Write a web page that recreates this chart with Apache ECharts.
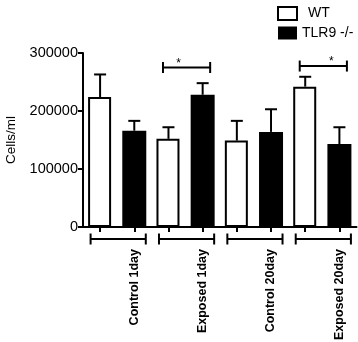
<!DOCTYPE html>
<html>
<head>
<meta charset="utf-8">
<script src="https://cdn.jsdelivr.net/npm/echarts@6/dist/echarts.min.js"></script>
<style>
html,body{margin:0;padding:0;background:#fff;}
#chart{width:358px;height:342px;}
</style>
</head>
<body>
<div id="chart"></div>
<script>
// ---- data ----
const categories = ['Control 1day', 'Exposed 1day', 'Control 20day', 'Exposed 20day'];
const seriesNames = ['WT', 'TLR9 -/-'];
const wtMean = [224000, 152000, 149000, 242000];
const wtErr = [39000, 20000, 34000, 17000];
const tlrMean = [166000, 228000, 164000, 143000];
const tlrErr = [17000, 20000, 39000, 29000];
const yMin = 0, yMax = 300000, yStep = 100000;
const sigGroups = [1, 3];            // groups with a significance bracket
const sigLevel = [275000, 277500];   // bracket height (data units)
const sigText = ['*', '*'];

// ---- build slot layout: each group -> [WT slot, TLR slot] ----
const slotNames = [];
const wtSlots = [], tlrSlots = [], errData = [], groupData = [];
categories.forEach((c, g) => {
  slotNames.push(c + ' ' + seriesNames[0], c + ' ' + seriesNames[1]);
  wtSlots.push(wtMean[g], '-');
  tlrSlots.push('-', tlrMean[g]);
  errData.push([2 * g, wtMean[g], wtErr[g]]);
  errData.push([2 * g + 1, tlrMean[g], tlrErr[g]]);
  groupData.push([2 * g, 2 * g + 1]);
});
const sigData = sigGroups.map((g, i) => [2 * g, 2 * g + 1, sigLevel[i], i]);

const FONT = 'Liberation Sans, Arial, Helvetica, sans-serif';
const chart = echarts.init(document.getElementById('chart'), null, {renderer: 'canvas'});

function line(x1, y1, x2, y2) {
  return {type: 'line', shape: {x1, y1, x2, y2}, style: {stroke: '#000', lineWidth: 2}};
}

chart.setOption({
  animation: false,
  backgroundColor: '#fff',
  grid: {left: 83, right: 1.5, top: 53, bottom: 115, outerBoundsMode: 'none'},
  legend: {
    orient: 'vertical', left: 272, top: 1,
    itemWidth: 19, itemHeight: 13, itemGap: 5,
    textStyle: {fontFamily: FONT, fontSize: 14, color: '#000', lineHeight: 14},
    data: [
      {name: seriesNames[0], icon: 'rect', itemStyle: {color: '#fff', borderColor: '#000', borderWidth: 2},
       textStyle: {padding: [0, 0, 0, 6]}},
      {name: seriesNames[1], icon: 'rect', itemStyle: {color: '#000', borderColor: '#000', borderWidth: 0}}
    ]
  },
  xAxis: {
    type: 'category',
    data: slotNames,
    boundaryGap: true,
    axisLine: {show: true, lineStyle: {color: '#000', width: 2}},
    axisTick: {show: true, alignWithLabel: true, interval: 0, length: 5, lineStyle: {color: '#000', width: 2}},
    axisLabel: {
      interval: 0, rotate: 90, margin: 22,
      fontFamily: FONT, fontSize: 12.5, fontWeight: 'bold', color: '#000',
      formatter: (v, i) => (i % 2 === 1 ? categories[(i - 1) / 2] : '')
    },
    splitLine: {show: false}
  },
  yAxis: {
    type: 'value', min: yMin, max: yMax, interval: yStep,
    name: 'Cells/ml', nameLocation: 'middle', nameGap: 53,
    nameTextStyle: {fontFamily: FONT, fontSize: 13.5, color: '#000'},
    axisLine: {show: true, lineStyle: {color: '#000', width: 2}},
    axisTick: {show: true, length: 5, lineStyle: {color: '#000', width: 2}},
    axisLabel: {fontFamily: FONT, fontSize: 14.5, color: '#000', margin: 5, formatter: v => String(v)},
    splitLine: {show: false}
  },
  series: [
    {
      name: seriesNames[0], type: 'bar', data: wtSlots, barWidth: 23, barGap: '-100%',
      itemStyle: {color: '#fff', borderColor: '#000', borderWidth: 2}
    },
    {
      name: seriesNames[1], type: 'bar', data: tlrSlots, barWidth: 24, barGap: '-100%',
      itemStyle: {color: '#000'}
    },
    {
      type: 'custom', name: 'err', data: errData, z: 5,
      encode: {x: 0, y: 1},
      renderItem: (params, api) => {
        const x = api.value(0), m = api.value(1), e = api.value(2);
        const p0 = api.coord([x, m]);
        const p1 = api.coord([x, m + e]);
        return {type: 'group', children: [
          line(p0[0], p0[1], p1[0], p1[1]),
          line(p1[0] - 6, p1[1], p1[0] + 6, p1[1])
        ]};
      }
    },
    {
      type: 'custom', name: 'sig', data: sigData, z: 5,
      encode: {x: 0, y: 2},
      renderItem: (params, api) => {
        const a = api.coord([api.value(0), api.value(2)]);
        const b = api.coord([api.value(1), api.value(2)]);
        const idx = api.value(3);
        const x1 = a[0] - 5.5, x2 = b[0] + 7.5, y = a[1];
        const starDx = idx === 0 ? -8 : 8;
        return {type: 'group', children: [
          line(x1, y, x2, y),
          line(x1, y - 5.5, x1, y + 5.5),
          line(x2, y - 5.5, x2, y + 5.5),
          {type: 'text', style: {text: sigText[idx], x: (x1 + x2) / 2 + starDx, y: y + 2,
            align: 'center', verticalAlign: 'bottom', fontFamily: FONT, fontSize: 12, fill: '#000'}}
        ]};
      }
    },
    {
      type: 'custom', name: 'groups', data: groupData, clip: false, z: 5,
      encode: {x: 0},
      renderItem: (params, api) => {
        const a = api.coord([api.value(0), 0]);
        const b = api.coord([api.value(1), 0]);
        const y = a[1] + 12;
        const x1 = a[0] - 9.5, x2 = b[0] + 11.5;
        return {type: 'group', children: [
          line(x1, y, x2, y),
          line(x1, y - 5.5, x1, y + 5.5),
          line(x2, y - 5.5, x2, y + 5.5)
        ]};
      }
    }
  ]
});
</script>
</body>
</html>
